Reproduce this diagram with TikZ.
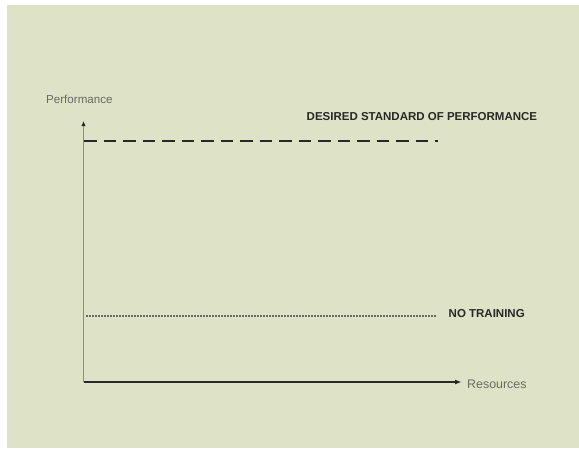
\documentclass[tikz,border=0pt]{standalone}
\usepackage{fontspec}
\setmainfont{Liberation Sans}
\usetikzlibrary{arrows.meta}
\definecolor{panel}{RGB}{222,226,198}
\definecolor{axisgrey}{RGB}{140,142,128}
\definecolor{labelgrey}{RGB}{105,107,98}
\definecolor{ink}{RGB}{40,40,38}
\tikzset{
  axislabel/.style={text=labelgrey, font=\fontsize{11.6}{13}\selectfont, inner sep=0pt},
  linelabel/.style={text=ink, font=\bfseries\fontsize{11.5}{13}\selectfont, inner sep=0pt},
  yaxis/.style={draw=axisgrey, line width=1pt, -{Latex[length=5pt,width=4.5pt,color=ink]}},
  xaxis/.style={draw=ink, line width=2pt, -{Latex[length=7pt,width=5pt]}},
  standardline/.style={draw=ink, line width=2.4pt, dash pattern=on 12.5pt off 7pt},
  baseline/.style={draw=ink!70, line width=1.1pt, dash pattern=on 2pt off 1pt}
}
\begin{document}
\begin{tikzpicture}[x=1pt,y=-1pt]
  % page and coloured panel
  \fill[white] (0,0) rectangle (579,451);
  \useasboundingbox (0,0) rectangle (579,451);
  \fill[panel] (6.5,5) rectangle (579,448);

  % axes
  \coordinate (origin) at (83.5,382);
  \coordinate (ytop) at (83.5,121);
  \coordinate (xend) at (462,382);
  \draw[yaxis] (origin) -- (ytop);
  \draw[xaxis] (origin) -- (xend);

  % axis labels
  \node[axislabel, anchor=west] (perf) at (46,99) {Performance};
  \node[axislabel, anchor=west, font=\fontsize{12.4}{14}\selectfont] (res) at (467,384) {Resources};

  % reference lines
  \coordinate (stdA) at (84,141);
  \coordinate (stdB) at (437.5,141);
  \draw[standardline] (stdA) -- (stdB);
  \coordinate (noA) at (86,316);
  \coordinate (noB) at (436,316);
  \draw[baseline] (noA) -- (noB);

  % line labels
  \node[linelabel, anchor=west] (std) at (306.5,116.5) {DESIRED STANDARD OF PERFORMANCE};
  \node[linelabel, anchor=west] (none) at (448.5,313.5) {NO TRAINING};
\end{tikzpicture}
\end{document}
